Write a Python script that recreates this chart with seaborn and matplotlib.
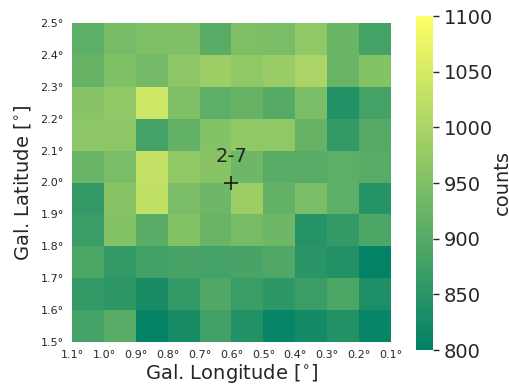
import numpy as np
import matplotlib
matplotlib.use("Agg")
import matplotlib.pyplot as plt
import seaborn as sns

# longitude / latitude edges (deg)
lon_labels = ["1.1°", "1.0°", "0.9°", "0.8°", "0.7°", "0.6°", "0.5°", "0.4°", "0.3°", "0.2°", "0.1°"]
lat_labels = ["2.5°", "2.4°", "2.3°", "2.2°", "2.1°", "2.0°", "1.9°", "1.8°", "1.7°", "1.6°", "1.5°"]

# counts per cell, top row = 2.4-2.5 deg latitude
counts = [
    [910, 940, 948, 952, 905, 948, 945, 970, 925, 880],
    [920, 950, 935, 965, 985, 970, 980, 1000, 925, 955],
    [960, 970, 1040, 950, 910, 920, 900, 945, 840, 880],
    [965, 965, 880, 915, 955, 970, 970, 920, 860, 900],
    [925, 945, 1030, 970, 960, 930, 905, 905, 910, 905],
    [860, 960, 1025, 945, 930, 985, 915, 945, 910, 845],
    [870, 955, 905, 955, 925, 940, 930, 845, 860, 890],
    [890, 860, 875, 885, 880, 885, 895, 850, 840, 805],
    [860, 855, 830, 860, 895, 870, 855, 870, 890, 835],
    [880, 905, 805, 830, 875, 840, 810, 825, 840, 810],
]

src_name = "2-7"
src_pos = (5, 5)  # cell-edge index (lon 0.6, lat 2.0)

sns.set_theme(style="white")

fig = plt.figure(figsize=(5.1, 3.87), dpi=100)
ax = fig.add_axes([72 / 510, 45 / 387, 319 / 510, 319 / 387])
cax = fig.add_axes([416 / 510, 37 / 387, 17 / 510, 334 / 387])

sns.heatmap(np.array(counts), cmap="summer", vmin=800, vmax=1100, ax=ax, cbar_ax=cax,
            xticklabels=False, yticklabels=False)

ax.set_xticks(np.arange(11))
ax.set_xticklabels(lon_labels, fontsize=8)
ax.set_yticks(np.arange(11))
ax.set_yticklabels(lat_labels, fontsize=8, rotation=0)
ax.tick_params(length=0, pad=6)
ax.set_xlabel("Gal. Longitude [$^{\\circ}$]", fontsize=14, labelpad=1)
ax.set_ylabel("Gal. Latitude [$^{\\circ}$]", fontsize=14, labelpad=5)

ax.plot(src_pos[0], src_pos[1], marker="+", color="k", markersize=10, mew=1.2)
ax.text(src_pos[0], src_pos[1] - 0.8, src_name, fontsize=14, ha="center", va="center", color="0.15")

cax.tick_params(labelsize=14, length=4, width=1, color="0.15", left=False, right=True)
cax.set_ylabel("counts", fontsize=14, labelpad=0)

fig.savefig("out.png", dpi=100)
